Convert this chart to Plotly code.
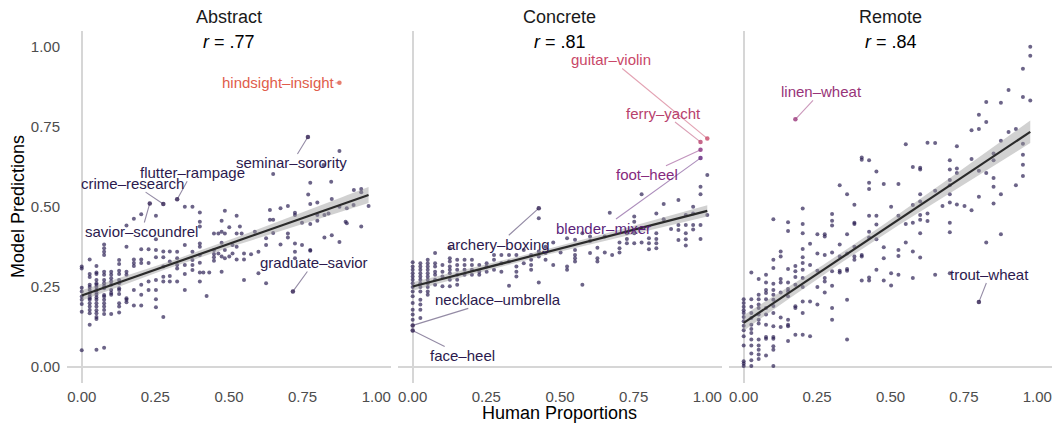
import numpy as np
import plotly.graph_objects as go

panels = ["Abstract", "Concrete", "Remote"]
r_values = [".77", ".81", ".84"]
tick_vals = [0, 0.25, 0.5, 0.75, 1.0]
tick_text = ["0.00", "0.25", "0.50", "0.75", "1.00"]

# (human proportion, [model predictions at that proportion])
abstract_columns = [
    (0.000, [.314, .308, .248, .236, .220, .210, .197, .173, .052]),
    (0.027, [.336, .291, .281, .257, .250, .241, .228, .220, .215, .210, .199, .189, .178, .168, .132]),
    (0.050, [.316, .295, .291, .272, .262, .257, .250, .241, .233, .226, .217, .210, .199, .189, .177, .168, .156, .150, .054]),
    (0.076, [.383, .371, .360, .350, .298, .288, .272, .262, .253, .246, .225, .220, .210, .199, .189, .178, .166, .060]),
    (0.100, [.298, .288, .277, .267, .257, .241, .231, .226, .166]),
    (0.127, [.334, .322, .301, .291, .272, .262, .246, .241, .228, .199, .189, .170]),
    (0.152, [.442, .376, .298, .288, .215, .210, .202]),
    (0.177, [.463, .336, .325, .316, .241, .192]),
    (0.202, [.477, .368, .336, .325, .257, .226, .192]),
    (0.227, [.368, .325, .267, .241]),
    (0.252, [.473, .399, .366, .343, .272, .241, .212, .187]),
    (0.277, [.361, .343, .314, .282, .267, .156]),
    (0.299, [.361, .330, .284, .267]),
    (0.324, [.360, .340, .319, .308, .267]),
    (0.350, [.501, .381, .319, .291, .241]),
    (0.376, [.501, .360, .334, .319, .303]),
    (0.401, [.483, .454, .439, .386, .376, .350, .326, .295, .267]),
    (0.413, [.295]),
    (0.424, [.222]),
    (0.433, [.295]),
    (0.449, [.417, .366, .353, .343, .332]),
    (0.464, [.417, .355]),
    (0.475, [.457, .423, .388, .345, .298]),
    (0.486, [.488, .417, .366, .340]),
    (0.501, [.437, .345]),
    (0.512, [.381, .355]),
    (0.526, [.473, .417, .376, .336]),
    (0.537, [.439]),
    (0.543, [.417]),
    (0.551, [.355, .336, .272]),
    (0.575, [.352]),
    (0.588, [.423]),
    (0.600, [.360, .293]),
    (0.626, [.402, .381, .262]),
    (0.639, [.491, .460]),
    (0.650, [.603, .460, .419]),
    (0.675, [.496, .383]),
    (0.700, [.503, .417, .405]),
    (0.724, [.482, .475, .386, .360, .340]),
    (0.748, [.451, .381]),
    (0.769, [.539]),
    (0.776, [.576, .509, .447, .366, .363]),
    (0.800, [.514, .475, .457]),
    (0.821, [.631]),
    (0.824, [.475, .405]),
    (0.838, [.480]),
    (0.847, [.579]),
    (0.849, [.525, .412]),
    (0.875, [.675, .501, .391]),
    (0.896, [.454]),
    (0.900, [.496, .449]),
    (0.923, [.506]),
    (0.924, [.553]),
    (0.949, [.556, .546, .439]),
    (0.974, [.503]),
]

concrete_columns = [
    (0.000, [.327, .314, .304, .293, .283, .273, .262, .250, .236, .221, .200, .179, .164, .148]),
    (0.026, [.324, .314, .304, .293, .283, .273, .262, .250, .236, .210, .195, .179, .153]),
    (0.051, [.335, .324, .314, .304, .293, .283, .273, .262, .250, .236, .226]),
    (0.076, [.356, .324, .314, .298, .288, .273, .257]),
    (0.101, [.319, .298, .283, .252]),
    (0.126, [.371, .340, .330, .314, .304, .293, .273, .252]),
    (0.151, [.335, .319, .304, .288, .273, .257]),
    (0.176, [.335, .319, .304, .288]),
    (0.201, [.335, .319, .304, .288]),
    (0.226, [.319, .298, .288]),
    (0.251, [.324, .314, .298]),
    (0.276, [.350, .335, .304]),
    (0.301, [.350, .324, .298]),
    (0.327, [.350, .330, .254]),
    (0.352, [.350, .314, .298, .283]),
    (0.377, [.366, .324]),
    (0.402, [.350, .335, .319, .304]),
    (0.428, [.465, .361, .345, .264]),
    (0.451, [.376, .356, .335]),
    (0.477, [.389, .319]),
    (0.502, [.358]),
    (0.524, [.402, .314, .304]),
    (0.551, [.398, .366, .350, .340, .330]),
    (0.576, [.418, .257]),
    (0.602, [.408, .394, .356]),
    (0.627, [.373, .340, .330]),
    (0.652, [.408, .358]),
    (0.669, [.482]),
    (0.677, [.350]),
    (0.702, [.389, .371, .358]),
    (0.727, [.418, .400, .387]),
    (0.752, [.470, .454, .418, .387]),
    (0.777, [.540, .434, .389]),
    (0.802, [.402, .387, .368]),
    (0.827, [.480, .418, .400, .387, .371]),
    (0.852, [.509, .462]),
    (0.877, [.431]),
    (0.902, [.522, .444, .428, .397]),
    (0.927, [.475, .444, .418, .399, .380]),
    (0.952, [.501, .480, .444, .430]),
    (0.977, [.563, .540, .444, .400]),
    (1.000, [.600, .475]),
]

remote_columns = [
    (0.000, [.212, .200, .188, .177, .169, .156, .143, .129, .115, .096, .067, .018, .011, .003]),
    (0.026, [.295, .212, .188, .169, .153, .132, .119, .106, .086, .067, .042, .021, .003]),
    (0.051, [.275, .226, .212, .195, .184, .164, .148, .136, .086, .067, .054, .039, .025]),
    (0.076, [.288, .264, .241, .231, .212, .184, .164, .132, .094, .088, .036]),
    (0.101, [.462, .335, .309, .260, .241, .226, .210, .191, .169, .127, .094, .088, .065, .054, .003]),
    (0.126, [.361, .345, .275, .264, .233, .155, .125]),
    (0.151, [.452, .425, .306, .264, .244, .236, .221, .148, .132, .127, .081]),
    (0.176, [.316, .299, .281, .257, .190, .184, .101]),
    (0.201, [.495, .447, .418, .369, .343, .325, .304, .278, .250, .205, .169, .101]),
    (0.226, [.385, .319, .205, .096]),
    (0.251, [.415, .355, .301, .250, .195]),
    (0.276, [.415, .408, .350, .278, .267, .233]),
    (0.301, [.478, .457, .442, .358, .299, .254, .184, .148]),
    (0.327, [.568, .383, .345, .301, .295]),
    (0.352, [.540, .415, .355, .306, .301, .210, .086]),
    (0.377, [.507, .451, .447, .376, .345, .335]),
    (0.402, [.655, .648, .350, .345, .270]),
    (0.427, [.646, .576, .556, .473, .423, .405, .280, .270]),
    (0.452, [.611, .473, .445, .399, .304]),
    (0.477, [.572, .374, .340, .270]),
    (0.502, [.501, .293, .255]),
    (0.527, [.572, .473, .366, .347, .288]),
    (0.552, [.696, .447, .389]),
    (0.576, [.625, .506, .451, .361, .278]),
    (0.601, [.623, .617, .540, .517, .475, .460, .418, .342]),
    (0.626, [.701, .480, .456]),
    (0.652, [.700, .551, .288]),
    (0.677, [.503]),
    (0.702, [.646, .617, .584, .568, .540, .514, .451, .421, .293]),
    (0.726, [.690, .620, .606, .508]),
    (0.752, [.503]),
    (0.776, [.740, .650, .490]),
    (0.801, [.788, .744, .613, .532]),
    (0.826, [.828, .766, .606, .389]),
    (0.851, [.667, .646, .591, .563, .511]),
    (0.876, [.826, .707, .540, .415]),
    (0.902, [.866, .734]),
    (0.927, [.744, .568]),
    (0.951, [.932, .844, .698, .663, .632, .597]),
    (0.976, [1.001, .973, .833]),
]

# Labelled word pairs: panel index, text, human proportion, model prediction, colour
label_panel = [0, 0, 0, 0, 0, 0, 1, 1, 1, 1, 1, 1, 1, 2, 2]
label_text = ["hindsight\u2013insight", "seminar\u2013sorority", "flutter\u2013rampage",
              "crime\u2013research", "savior\u2013scoundrel", "graduate\u2013savior",
              "guitar\u2013violin", "ferry\u2013yacht", "foot\u2013heel", "blender\u2013mixer",
              "archery\u2013boxing", "necklace\u2013umbrella", "face\u2013heel",
              "linen\u2013wheat", "trout\u2013wheat"]
label_x = [0.875, 0.768, 0.324, 0.277, 0.231, 0.717,
           1.000, 0.977, 0.977, 0.977, 0.428, 0.000, 0.000,
           0.176, 0.801]
label_y = [0.888, 0.719, 0.524, 0.509, 0.511, 0.236,
           0.714, 0.703, 0.679, 0.653, 0.496, 0.130, 0.114,
           0.774, 0.203]
label_rgb = [(224, 92, 75), (44, 26, 78), (44, 26, 78), (44, 26, 78), (44, 26, 78), (44, 26, 78),
             (201, 71, 104), (184, 65, 109), (134, 42, 125), (92, 31, 122),
             (44, 26, 78), (44, 26, 78), (44, 26, 78),
             (152, 52, 121), (44, 26, 78)]
# label text offsets from their point, in pixels (styling)
label_ax = [-61, -16, 15, -31, -8, 21, -96, -37, -54, -97, -40, 85, 50, 26, 11]
label_ay = [0, 26, -27, -21, 28, -29, -79, -29, 25, 70, 36, -26, 25, -28, -28]

columns_by_panel = [abstract_columns, concrete_columns, remote_columns]

FONT = "Liberation Sans, Arial, Helvetica, sans-serif"
POINT_COLOR = "rgba(38,26,80,0.68)"

fig = go.Figure()
domains = [[0.0, 0.3289], [0.3360, 0.6650], [0.6721, 1.0]]

for i, cols in enumerate(columns_by_panel):
    xs = [c[0] for c in cols for _ in c[1]]
    ys = [v for c in cols for v in c[1]]
    lx = [label_x[k] for k in range(len(label_x)) if label_panel[k] == i]
    ly = [label_y[k] for k in range(len(label_y)) if label_panel[k] == i]
    lc = [label_rgb[k] for k in range(len(label_rgb)) if label_panel[k] == i]
    xa = "x" if i == 0 else f"x{i+1}"
    ya = "y" if i == 0 else f"y{i+1}"

    fig.add_trace(go.Scatter(x=xs, y=ys, mode="markers", xaxis=xa, yaxis=ya,
                             marker=dict(size=4, color=POINT_COLOR, line=dict(width=0)),
                             hoverinfo="skip"))
    fig.add_trace(go.Scatter(x=lx, y=ly, mode="markers", xaxis=xa, yaxis=ya,
                             marker=dict(size=4.5, color=[f"rgba({r},{g},{b},0.8)" for r, g, b in lc]),
                             hoverinfo="skip"))

    # linear fit with 95% confidence band
    X = np.array(xs + lx, dtype=float)
    Y = np.array(ys + ly, dtype=float)
    n = len(X)
    b, a = np.polyfit(X, Y, 1)
    resid = Y - (a + b * X)
    s = np.sqrt(np.sum(resid ** 2) / (n - 2))
    xbar = X.mean()
    sxx = np.sum((X - xbar) ** 2)
    grid = np.linspace(X.min(), X.max(), 80)
    fit = a + b * grid
    se = s * np.sqrt(1.0 / n + (grid - xbar) ** 2 / sxx)
    t = 1.968
    upper = fit + t * se
    lower = fit - t * se
    fig.add_trace(go.Scatter(x=np.concatenate([grid, grid[::-1]]),
                             y=np.concatenate([upper, lower[::-1]]),
                             fill="toself", fillcolor="rgba(153,153,153,0.45)",
                             line=dict(width=0), mode="lines", xaxis=xa, yaxis=ya,
                             hoverinfo="skip"))
    fig.add_trace(go.Scatter(x=grid, y=fit, mode="lines", xaxis=xa, yaxis=ya,
                             line=dict(color="#2b2b2b", width=2.2), hoverinfo="skip"))

annotations = []
for i, name in enumerate(panels):
    xr = "x" if i == 0 else f"x{i+1}"
    yr = "y" if i == 0 else f"y{i+1}"
    annotations.append(dict(text=name, xref=f"{xr} domain", yref="paper", x=0.5, y=1,
                            yshift=14, yanchor="middle", xanchor="center", showarrow=False,
                            font=dict(family=FONT, size=18, color="#1a1a1a")))
    annotations.append(dict(text=f"<i>r</i> = {r_values[i]}", xref=xr, yref=yr, x=0.5, y=1.015,
                            showarrow=False, yanchor="middle", xanchor="center",
                            font=dict(family=FONT, size=18, color="#000000")))

for k in range(len(label_text)):
    i = label_panel[k]
    xr = "x" if i == 0 else f"x{i+1}"
    yr = "y" if i == 0 else f"y{i+1}"
    r, g, b = label_rgb[k]
    annotations.append(dict(text=label_text[k], xref=xr, yref=yr, x=label_x[k], y=label_y[k],
                            ax=label_ax[k], ay=label_ay[k], showarrow=True, arrowhead=0,
                            arrowwidth=1.1, arrowcolor=f"rgba({r},{g},{b},0.5)", standoff=1,
                            borderpad=0,
                            font=dict(family=FONT, size=15, color=f"rgb({r},{g},{b})")))

annotations.append(dict(text="Human Proportions", xref="paper", yref="paper", x=0.5, y=0,
                        yshift=-30, yanchor="middle", xanchor="center", showarrow=False,
                        font=dict(family=FONT, size=18, color="#000000")))
annotations.append(dict(text="Model Predictions", xref="paper", yref="paper", x=0, y=0.5,
                        xshift=-49, textangle=-90, xanchor="center", yanchor="middle",
                        showarrow=False,
                        font=dict(family=FONT, size=18, color="#000000")))

axis_common = dict(range=[-0.05, 1.05], tickvals=tick_vals, ticktext=tick_text,
                   showgrid=False, zeroline=True, zerolinecolor="#d6d6d6", zerolinewidth=2,
                   showline=False, ticks="",
                   tickfont=dict(family=FONT, size=15, color="#4d4d4d"))

layout = dict(width=1053, height=427, margin=dict(l=67, r=1, t=31, b=44),
              plot_bgcolor="white", paper_bgcolor="white", showlegend=False,
              annotations=annotations)
for i in range(3):
    xk = "xaxis" if i == 0 else f"xaxis{i+1}"
    yk = "yaxis" if i == 0 else f"yaxis{i+1}"
    layout[xk] = dict(axis_common, domain=domains[i], anchor="y" if i == 0 else f"y{i+1}",
                      ticklabelstandoff=3)
    layout[yk] = dict(axis_common, domain=[0, 1], anchor="x" if i == 0 else f"x{i+1}",
                      showticklabels=(i == 0), ticklabelstandoff=6)

fig.update_layout(**layout)
fig.write_html("out.html", config={"displayModeBar": False},
               post_script="document.body.style.margin='0';document.body.style.overflow='hidden';")
